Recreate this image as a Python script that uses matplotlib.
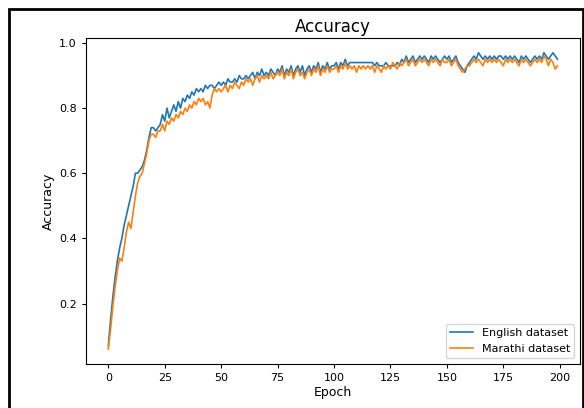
import matplotlib
matplotlib.use("Agg")
import matplotlib.pyplot as plt
from matplotlib.patches import Rectangle

english_acc = [
    0.07, 0.15, 0.22, 0.28, 0.33, 0.37, 0.40, 0.44, 0.47, 0.50,
    0.53, 0.56, 0.60, 0.60, 0.61, 0.62, 0.64, 0.67, 0.71, 0.74,
    0.74, 0.73, 0.74, 0.75, 0.78, 0.76, 0.80, 0.77, 0.79, 0.81,
    0.79, 0.82, 0.80, 0.83, 0.82, 0.84, 0.83, 0.85, 0.84, 0.86,
    0.85, 0.86, 0.85, 0.87, 0.86, 0.87, 0.87, 0.86, 0.87, 0.88,
    0.87, 0.88, 0.87, 0.89, 0.88, 0.88, 0.89, 0.88, 0.90, 0.89,
    0.89, 0.90, 0.89, 0.90, 0.91, 0.89, 0.91, 0.90, 0.92, 0.90,
    0.91, 0.90, 0.92, 0.91, 0.90, 0.92, 0.91, 0.93, 0.90, 0.92,
    0.91, 0.93, 0.90, 0.92, 0.93, 0.91, 0.93, 0.90, 0.92, 0.93,
    0.91, 0.93, 0.92, 0.94, 0.91, 0.93, 0.92, 0.94, 0.92, 0.93,
    0.93, 0.94, 0.92, 0.94, 0.93, 0.95, 0.93, 0.94, 0.94, 0.94,
    0.94, 0.94, 0.94, 0.94, 0.94, 0.94, 0.94, 0.94, 0.93, 0.94,
    0.93, 0.93, 0.93, 0.94, 0.93, 0.93, 0.93, 0.93, 0.94, 0.93,
    0.95, 0.94, 0.96, 0.94, 0.95, 0.96, 0.94, 0.95, 0.96, 0.95,
    0.96, 0.95, 0.94, 0.96, 0.95, 0.96, 0.95, 0.94, 0.95, 0.96,
    0.95, 0.96, 0.94, 0.95, 0.96, 0.94, 0.93, 0.92, 0.91, 0.93,
    0.94, 0.95, 0.96, 0.95, 0.97, 0.96, 0.95, 0.96, 0.95, 0.96,
    0.95, 0.96, 0.95, 0.96, 0.96, 0.95, 0.96, 0.95, 0.96, 0.95,
    0.96, 0.95, 0.94, 0.96, 0.95, 0.96, 0.95, 0.94, 0.95, 0.96,
    0.95, 0.96, 0.95, 0.97, 0.96, 0.95, 0.96, 0.97, 0.96, 0.95,
]

marathi_acc = [
    0.06, 0.12, 0.19, 0.25, 0.30, 0.34, 0.33, 0.37, 0.42, 0.45,
    0.43, 0.48, 0.53, 0.57, 0.59, 0.60, 0.63, 0.66, 0.70, 0.72,
    0.72, 0.71, 0.73, 0.73, 0.75, 0.73, 0.76, 0.75, 0.77, 0.76,
    0.78, 0.77, 0.79, 0.78, 0.80, 0.79, 0.81, 0.80, 0.82, 0.81,
    0.83, 0.82, 0.83, 0.81, 0.82, 0.80, 0.84, 0.86, 0.85, 0.86,
    0.85, 0.86, 0.87, 0.85, 0.87, 0.86, 0.88, 0.87, 0.86, 0.88,
    0.87, 0.89, 0.88, 0.89, 0.87, 0.89, 0.90, 0.88, 0.90, 0.89,
    0.90, 0.89, 0.91, 0.89, 0.90, 0.91, 0.90, 0.92, 0.89, 0.91,
    0.90, 0.92, 0.89, 0.91, 0.92, 0.90, 0.91, 0.89, 0.91, 0.92,
    0.90, 0.92, 0.91, 0.93, 0.90, 0.92, 0.91, 0.93, 0.91, 0.92,
    0.92, 0.93, 0.91, 0.93, 0.92, 0.94, 0.92, 0.93, 0.92, 0.93,
    0.91, 0.93, 0.92, 0.93, 0.92, 0.93, 0.92, 0.93, 0.91, 0.93,
    0.92, 0.91, 0.93, 0.92, 0.93, 0.92, 0.94, 0.93, 0.92, 0.94,
    0.93, 0.94, 0.95, 0.93, 0.94, 0.95, 0.93, 0.94, 0.95, 0.94,
    0.95, 0.94, 0.93, 0.95, 0.94, 0.95, 0.94, 0.93, 0.95, 0.94,
    0.94, 0.95, 0.93, 0.94, 0.95, 0.93, 0.92, 0.91, 0.92, 0.93,
    0.93, 0.94, 0.95, 0.94, 0.95, 0.94, 0.93, 0.95, 0.94, 0.95,
    0.94, 0.95, 0.94, 0.95, 0.94, 0.93, 0.95, 0.94, 0.95, 0.94,
    0.95, 0.94, 0.93, 0.95, 0.94, 0.95, 0.94, 0.93, 0.94, 0.95,
    0.94, 0.95, 0.94, 0.96, 0.95, 0.93, 0.95, 0.94, 0.92, 0.93,
]

epochs = list(range(len(english_acc)))

fig = plt.figure(figsize=(5.84, 4.08), dpi=100)
ax = fig.add_axes([0.147, 0.108, 0.846, 0.799])

ax.plot(epochs, english_acc, color="tab:blue", linewidth=1.2, label="English dataset")
ax.plot(epochs, marathi_acc, color="tab:orange", linewidth=1.2, label="Marathi dataset")

ax.set_title("Accuracy", fontsize=12, pad=4)
ax.set_xlabel("Epoch", fontsize=9, labelpad=2)
ax.set_ylabel("Accuracy", fontsize=9, labelpad=3)
ax.set_xticks([0, 25, 50, 75, 100, 125, 150, 175, 200])
ax.set_yticks([0.2, 0.4, 0.6, 0.8, 1.0])
ax.tick_params(labelsize=8, length=3)
ax.legend(loc="lower right", fontsize=8)

# black frame around the figure like in the screenshot
fig.patches.append(Rectangle((9 / 584, -0.01), 574 / 584, 1 - 9 / 408 + 0.01,
                             transform=fig.transFigure, fill=False,
                             edgecolor="black", linewidth=2))

fig.savefig("out.png", dpi=100)
